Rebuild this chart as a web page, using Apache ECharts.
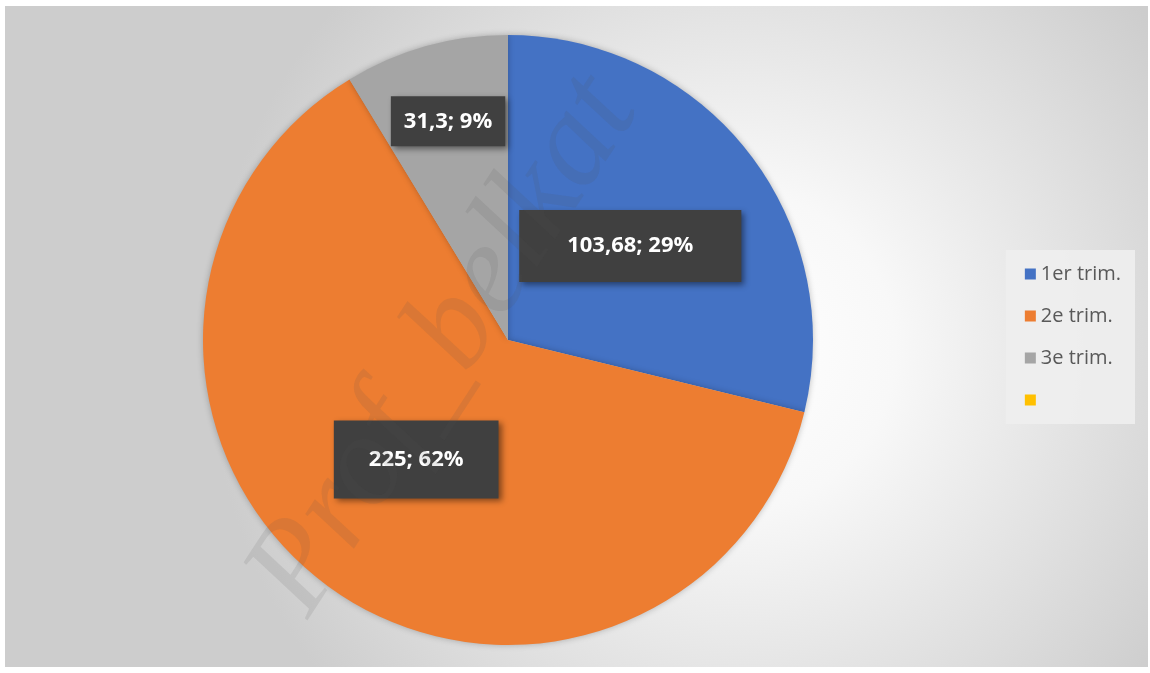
<!DOCTYPE html>
<html>
<head>
<meta charset="utf-8">
<script src="https://cdn.jsdelivr.net/npm/echarts@6/dist/echarts.min.js"></script>
<style>
html, body { margin: 0; padding: 0; background: #fff; }
#main { position: absolute; left: 5px; top: 6px; width: 1143px; height: 661px; }
</style>
</head>
<body>
<div id="main"></div>
<script>
var categories = ['1er trim.', '2e trim.', '3e trim.', ' '];
var values = [103.68, 225, 31.3, 0];
var colors = ['#4472C4', '#ED7D31', '#A5A5A5', '#FFC000'];

var myChart = echarts.init(document.getElementById('main'));

// padding des etiquettes (boites redimensionnees a la main dans l'original)
var labelPad = [[25, 48], [28, 35], [14, 13], [0, 0]];
var labelOffset = [[0, 2], [0, -6], [-18, -69], [0, 0]];

var pieData = categories.map(function (c, i) {
    return {
        name: c,
        value: values[i],
        itemStyle: { color: colors[i] },
        label: {
            show: values[i] > 0,
            padding: labelPad[i],
            offset: labelOffset[i]
        }
    };
});

function fmtNum(v) {
    return String(v).replace('.', ',');
}

var option = {
    backgroundColor: {
        type: 'radial', x: 0.64, y: 0.52, r: 0.8,
        colorStops: [
            { offset: 0, color: '#ffffff' },
            { offset: 0.3, color: '#f8f8f8' },
            { offset: 1, color: '#cdcdcd' }
        ]
    },
    animation: false,
    legend: {
        orient: 'vertical',
        right: 13,
        top: 244,
        data: categories,
        itemWidth: 11,
        itemHeight: 11,
        itemGap: 22,
        icon: 'rect',
        padding: [14, 14, 14, 19],
        backgroundColor: 'rgba(238,238,238,0.9)',
        textStyle: { color: '#595959', fontSize: 20, fontFamily: 'Open Sans' }
    },
    series: [{
        type: 'pie',
        center: [503, 334],
        radius: 305,
        startAngle: 90,
        clockwise: true,
        percentPrecision: 0,
        data: pieData,
        itemStyle: {
            shadowBlur: 6,
            shadowColor: 'rgba(0,0,0,0.25)'
        },
        label: {
            position: 'inside',
            formatter: function (p) {
                return fmtNum(p.value) + '; ' + p.percent + '%';
            },
            color: '#ffffff',
            fontWeight: 'bold',
            fontSize: 22,
            fontFamily: 'Open Sans',
            backgroundColor: '#404040',
            shadowBlur: 6,
            shadowOffsetX: 3,
            shadowOffsetY: 3,
            shadowColor: 'rgba(0,0,0,0.45)'
        },
        labelLine: { show: false },
        emphasis: { disabled: true }
    }],
    graphic: [{
        type: 'text',
        x: 440,
        y: 340,
        rotation: 57 * Math.PI / 180,
        z: 100,
        silent: true,
        style: {
            text: 'Prof_belkat',
            fill: 'rgba(80,80,80,0.12)',
            font: 'italic 130px "Liberation Serif"',
            align: 'center',
            verticalAlign: 'middle'
        }
    }]
};

myChart.setOption(option);
window.addEventListener('resize', function () {
    myChart.resize();
});
</script>
</body>
</html>
